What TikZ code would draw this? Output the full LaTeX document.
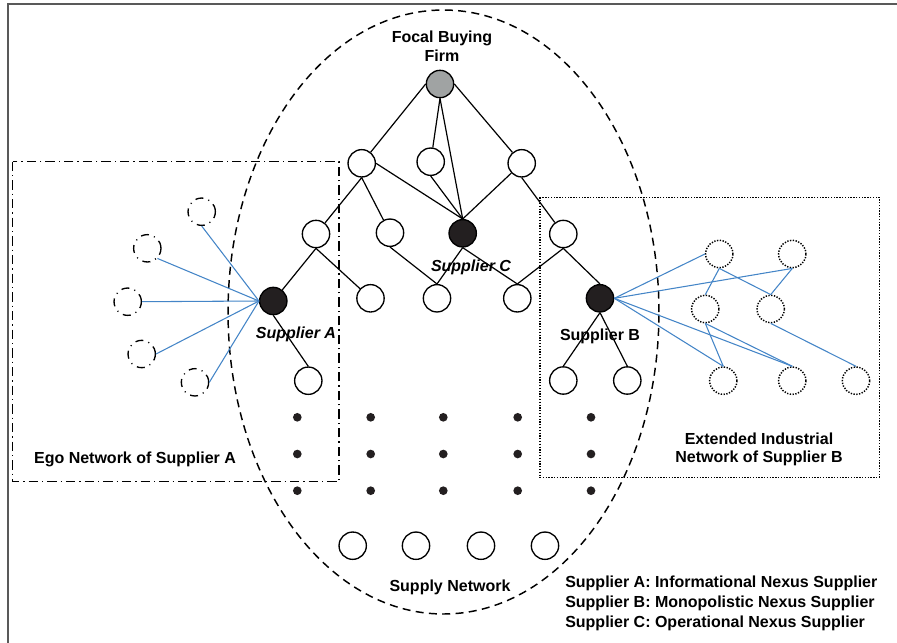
\documentclass[tikz,border=0pt]{standalone}
\usepackage{fontspec}
\setmainfont{Liberation Sans}
\begin{document}
\begin{tikzpicture}[x=0.75pt,y=-0.75pt,
  every node/.style={font=\fontsize{12}{14}\selectfont\bfseries},
  firm/.style={circle,draw,line width=1pt,minimum size=20.5pt,inner sep=0pt,fill=white},
  focal/.style={firm,fill={rgb,255:red,160;green,163;blue,163}},
  nexus/.style={firm,fill={rgb,255:red,35;green,31;blue,32}},
  egonode/.style={circle,draw,line width=1pt,minimum size=20.5pt,inner sep=0pt,
    dash pattern=on 6pt off 4pt on 0.8pt off 4pt},
  extnode/.style={circle,draw,line width=1.1pt,minimum size=20.5pt,inner sep=0pt,
    dash pattern=on 1pt off 1.1pt},
  tier/.style={circle,fill={rgb,255:red,35;green,31;blue,32},minimum size=6.5pt,inner sep=0pt},
  tie/.style={line width=0.9pt},
  bluetie/.style={line width=0.8pt,draw={rgb,255:red,68;green,133;blue,199}},
  label/.style={inner sep=0pt,align=center},
]
\useasboundingbox (0,0) rectangle (897,643);

% outer frame
\draw[line width=1.2pt,black!65] (8,643) -- (8,4) -- (897,4);

% supply network boundary
\draw[line width=1.1pt,dash pattern=on 6pt off 4pt] (443.5,312) ellipse [x radius=161.6pt, y radius=226.5pt];

% ego network and extended network frames
\draw[line width=1pt,dash pattern=on 7pt off 3pt on 1pt off 3pt] (12.7,161.7) rectangle (339,481.7);
\draw[line width=1.1pt,dash pattern=on 1pt off 1.1pt] (540,197.3) rectangle (879.3,477.3);

% supply tree
\node[focal] (F) at (440,84) {};
\node[firm] (L1a) at (361.7,163.3) {};
\node[firm] (L1b) at (430.7,161.7) {};
\node[firm] (L1c) at (521.7,163.3) {};
\node[firm] (L2a) at (316,234) {};
\node[firm] (L2b) at (390,232.7) {};
\node[nexus] (C) at (462.7,233.3) {};
\node[firm] (L2d) at (563.3,234) {};
\node[nexus] (A) at (273.3,301) {};
\node[firm] (L3b) at (370.5,298.3) {};
\node[firm] (L3c) at (437,298.3) {};
\node[firm] (L3d) at (517.3,298.3) {};
\node[nexus] (B) at (600,298.3) {};
\node[firm] (L4a) at (308.3,380.7) {};
\node[firm] (L4b) at (563.3,380.5) {};
\node[firm] (L4c) at (627.3,380.5) {};

% further tiers
\foreach \c/\x in {1/297.3,2/370.7,3/443.3,4/517.7,5/591}
  \foreach \r/\y in {1/417.3,2/454,3/490.7}
    \node[tier] (t\c\r) at (\x,\y) {};

\node[firm] (R1) at (352.7,545.7) {};
\node[firm] (R2) at (416,545.7) {};
\node[firm] (R3) at (481,545.7) {};
\node[firm] (R4) at (545,545.7) {};

% ego network of supplier A
\node[egonode] (D1) at (201.7,211.7) {};
\node[egonode] (D2) at (147.3,248.3) {};
\node[egonode] (D3) at (127.7,301.7) {};
\node[egonode] (D4) at (141.7,354) {};
\node[egonode] (D5) at (195,382.3) {};

% extended network of supplier B
\node[extnode] (E1) at (719.3,254) {};
\node[extnode] (E2) at (792.3,254) {};
\node[extnode] (E3) at (705.3,309) {};
\node[extnode] (E4) at (770.7,309) {};
\node[extnode] (E5) at (723.3,380.7) {};
\node[extnode] (E6) at (792.3,380.7) {};
\node[extnode] (E7) at (856,380.7) {};

% tree ties
\draw[tie] (F.west) -- (L1a);
\draw[tie] (F.south) -- (L1b);
\draw[tie] (F.south) -- (C.north);
\draw[tie] (F.east) -- (L1c);
\draw[tie] (L1a.south) -- (L2a);
\draw[tie] (L1a.south) -- (L2b);
\draw[tie] (L1a.east) -- (C.north);
\draw[tie] (L1b.south) -- (C.north);
\draw[tie] (L1c) -- (C.north);
\draw[tie] (L1c.south) -- (L2d);
\draw[tie] (L2a.south) -- (A);
\draw[tie] (L2a.south) -- (L3b);
\draw[tie] (L2b.south) -- (L3c.north);
\draw[tie] (C.south) -- (L3c.north);
\draw[tie] (C.south) -- (L3d.north);
\draw[tie] (L2d.south) -- (L3d.north);
\draw[tie] (L2d.south) -- (B.north);
\draw[tie] (A.south) -- (L4a.north);
\draw[tie] (B.south) -- (L4b.north);
\draw[tie] (B.south) -- (L4c.north);

% ego ties
\draw[bluetie] (A.west) -- (D1.south);
\draw[bluetie] (A.west) -- (D2.-45);
\draw[bluetie] (A.west) -- (D3.east);
\draw[bluetie] (A.west) -- (D4.east);
\draw[bluetie] (A.west) -- (D5.east);

% extended ties
\draw[bluetie] (B.east) -- (E1.west);
\draw[bluetie] (B.east) -- (E2.south);
\draw[bluetie] (B.east) -- (E5.north);
\draw[bluetie] (B.east) -- (E6.north);
\draw[bluetie] (E1.south) -- (E3.north);
\draw[bluetie] (E1.south) -- (E4.north);
\draw[bluetie] (E2.south) -- (E4.north);
\draw[bluetie] (E3.south) -- (E5.north);
\draw[bluetie] (E3.south) -- (E6.north);
\draw[bluetie] (E4.south) -- (E7.north);

% labels
\node[label] (lF) at (442,46) {Focal Buying\\Firm};
\node[label,font=\fontsize{12}{14}\selectfont\bfseries\itshape] (lC) at (471,267.3) {Supplier C};
\node[label,font=\fontsize{12}{14}\selectfont\bfseries\itshape] (lA) at (296,334) {Supplier A};
\node[label] (lB) at (600,336) {Supplier B};
\node[label] (lEgo) at (135,459) {Ego Network of Supplier A};
\node[label] (lExt) at (759,449.5) {Extended Industrial\\Network of Supplier B};
\node[label] (lSN) at (450,587) {Supply Network};
\node[label,align=left,anchor=west,font=\fontsize{12}{14.8}\selectfont\bfseries] (lKey) at (565,603.5)
  {Supplier A: Informational Nexus Supplier\\Supplier B: Monopolistic Nexus Supplier\\Supplier C: Operational Nexus Supplier};
\end{tikzpicture}
\end{document}
